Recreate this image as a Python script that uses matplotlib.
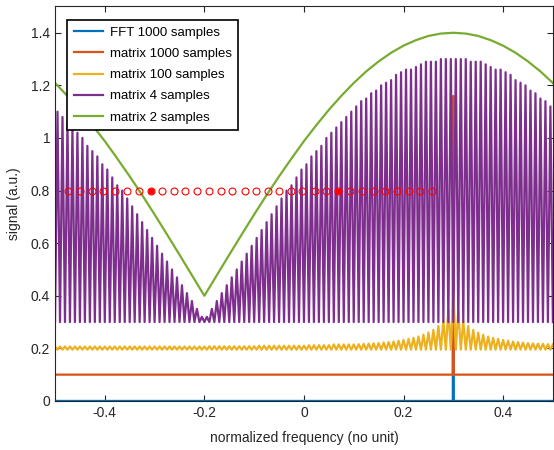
import numpy as np
import matplotlib
matplotlib.use("Agg")
import matplotlib.pyplot as plt

plt.rcParams['font.family'] = ['Liberation Sans', 'DejaVu Sans']
plt.rcParams['font.size'] = 10

# frequency grids
freq_fine = np.linspace(-0.5, 0.5, 201)     # peak/trough grid, step 0.005
freq_green = np.linspace(-0.5, 0.5, 41)

# FFT / 1000-sample matrix: flat lines with one line at f = 0.3
freq_spike = [-0.5, 0.299, 0.300, 0.301, 0.5]
fft_1000 = [0.0, 0.0, 1.0, 0.0, 0.0]
mat_1000 = [0.1, 0.1, 1.16, 0.1, 0.1]

# 100-sample matrix: ripple peaks (one every 0.01), troughs at a common floor
mat_100_trough = 0.195
mat_100_peaks = ([0.207] * 31 + [0.208] * 10 + [0.210] * 10 + [0.212] * 5 + [0.215] * 5
                 + [0.216, 0.217, 0.218, 0.219, 0.220, 0.222, 0.224, 0.226, 0.229, 0.232,
                    0.236, 0.240, 0.245, 0.252, 0.260, 0.270, 0.285, 0.305, 0.345, 0.415]
                 + [0.345, 0.305, 0.285, 0.270, 0.260, 0.252, 0.245, 0.240, 0.236, 0.232,
                    0.229, 0.226, 0.224, 0.222, 0.220, 0.219, 0.218, 0.217, 0.216, 0.215])

# 4-sample matrix: fast oscillation between 0.3 and these peaks
mat_4_trough = 0.3
mat_4_peaks = [1.10, 1.08, 1.06, 1.04, 1.02, 1.00, 0.97, 0.95, 0.93, 0.90,
               0.88, 0.85, 0.82, 0.80, 0.77, 0.74, 0.71, 0.68, 0.65, 0.62,
               0.59, 0.56, 0.53, 0.50, 0.47, 0.44, 0.41, 0.38, 0.35, 0.32,
               0.32, 0.35, 0.38, 0.41, 0.44, 0.47, 0.50, 0.53, 0.56, 0.59,
               0.62, 0.65, 0.68, 0.71, 0.74, 0.77, 0.80, 0.82, 0.85, 0.88,
               0.90, 0.93, 0.95, 0.97, 1.00, 1.02, 1.04, 1.06, 1.08, 1.10,
               1.12, 1.14, 1.15, 1.17, 1.18, 1.20, 1.21, 1.22, 1.24, 1.25,
               1.26, 1.26, 1.27, 1.28, 1.29, 1.29, 1.29, 1.30, 1.30, 1.30,
               1.30, 1.30, 1.30, 1.29, 1.29, 1.29, 1.28, 1.27, 1.26, 1.26,
               1.25, 1.24, 1.22, 1.21, 1.20, 1.18, 1.17, 1.15, 1.14, 1.12]

# 2-sample matrix
mat_2 = [1.209, 1.160, 1.107, 1.049, 0.988, 0.922, 0.854, 0.783, 0.709, 0.633,
         0.556, 0.478, 0.400, 0.478, 0.556, 0.633, 0.709, 0.783, 0.854, 0.922,
         0.988, 1.049, 1.107, 1.160, 1.209, 1.253, 1.291, 1.324, 1.351, 1.372,
         1.388, 1.397, 1.400, 1.397, 1.388, 1.372, 1.351, 1.324, 1.291, 1.253, 1.209]

# sampled frequencies at 0.8 (filled ones are the selected samples)
dots_x = [-0.473, -0.450, -0.426, -0.403, -0.379, -0.356, -0.331, -0.308,
          -0.285, -0.261, -0.238, -0.215, -0.191, -0.167, -0.144, -0.119,
          -0.096, -0.073, -0.050, -0.026, -0.003, 0.022, 0.045, 0.069,
          0.092, 0.117, 0.140, 0.163, 0.186, 0.211, 0.234, 0.258]
dots_y = 0.8
filled_idx = [7, 23]

yellow = np.full(201, mat_100_trough)
yellow[0::2] = mat_100_peaks
purple = np.full(201, mat_4_trough)
purple[1::2] = mat_4_peaks

c_blue = (0, 0.447, 0.741)
c_orange = (0.85, 0.325, 0.098)
c_yellow = (0.929, 0.694, 0.125)
c_purple = (0.494, 0.184, 0.556)
c_green = (0.466, 0.674, 0.188)
c_axis = (0.15, 0.15, 0.15)

fig = plt.figure(figsize=(5.54, 4.5), dpi=100)
ax = fig.add_axes([0.0993, 0.109, 0.8987, 0.8766])

ax.plot(freq_spike, fft_1000, color=c_blue, lw=1.6, label='FFT 1000 samples')
ax.plot(freq_spike, mat_1000, color=c_orange, lw=1.6, label='matrix 1000 samples')
ax.plot(freq_fine, yellow, color=c_yellow, lw=1.6, label='matrix 100 samples')
ax.plot(freq_fine, purple, color=c_purple, lw=1.6, label='matrix 4 samples')
ax.plot(freq_green, mat_2, color=c_green, lw=1.6, label='matrix 2 samples')

ax.plot(dots_x, [dots_y] * len(dots_x), 'o', ls='none', color='red',
        mfc='none', ms=5, mew=0.8)
ax.plot([dots_x[i] for i in filled_idx], [dots_y] * len(filled_idx), 'o',
        ls='none', color='red', ms=3.5)

ax.set_xlim(-0.5, 0.5)
ax.set_ylim(0, 1.5)
ax.set_xticks([-0.4, -0.2, 0, 0.2, 0.4])
ax.set_xticklabels(['-0.4', '-0.2', '0', '0.2', '0.4'])
ax.set_yticks([0, 0.2, 0.4, 0.6, 0.8, 1.0, 1.2, 1.4])
ax.set_yticklabels(['0', '0.2', '0.4', '0.6', '0.8', '1', '1.2', '1.4'])
ax.tick_params(direction='in', length=4, width=0.8, top=True, right=True,
               colors=c_axis, labelsize=10)
for s in ax.spines.values():
    s.set_color(c_axis)
    s.set_linewidth(0.8)

ax.set_xlabel('normalized frequency (no unit)', color=c_axis, labelpad=8)
ax.set_ylabel('signal (a.u.)', color=c_axis, labelpad=7)

leg = ax.legend(loc='upper left', bbox_to_anchor=(0.024, 0.966), borderaxespad=0,
                fancybox=False, framealpha=1, edgecolor='black', handlelength=2.2,
                handletextpad=0.55, labelspacing=0.68, borderpad=0.5, fontsize=9.5)
leg.get_frame().set_linewidth(1.2)

fig.savefig('out.png', dpi=100)
